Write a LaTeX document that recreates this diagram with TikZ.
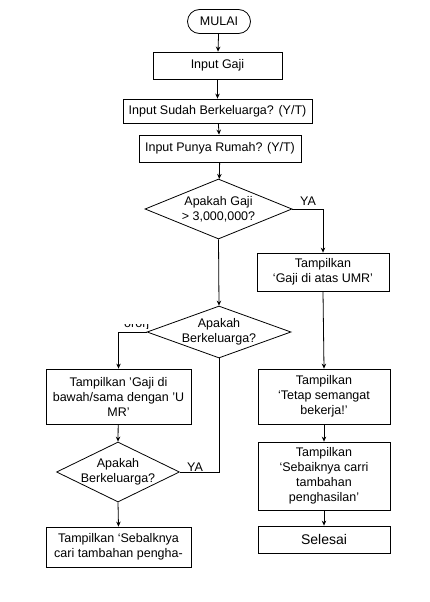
\documentclass[tikz,border=0pt]{standalone}
\usepackage{fontspec}
\setmainfont{Liberation Sans}
\usetikzlibrary{shapes.geometric,arrows.meta}
\tikzset{
  x=1pt,y=-1pt,
  every node/.style={font=\fontsize{12.5}{15}\selectfont},
  box/.style={draw,line width=0.8pt,rectangle,inner sep=0pt,align=center},
  term/.style={draw,line width=0.8pt,rectangle,rounded corners=12pt,inner sep=0pt,minimum width=63pt,minimum height=24pt},
  dec/.style={draw,line width=0.8pt,diamond,inner sep=0pt},
  dtext/.style={align=center,inner sep=0pt},
  conn/.style={line width=0.8pt},
  arr/.style={conn,-{Stealth[length=5pt,width=4.5pt]}},
  lab/.style={inner sep=0pt}
}
\begin{document}
\begin{tikzpicture}
\useasboundingbox[fill=white] (0,0) rectangle (430,602);
\node[term] (start) at (219,21.5) {MULAI};
\node[box,minimum width=129pt,minimum height=27pt] (in1) at (217.5,65.5) {Input Gaji};
\node[box,minimum width=189pt,minimum height=24pt] (in2) at (217.5,111) {Input Sudah Berkeluarga? (Y/T)};
\node[box,minimum width=162pt,minimum height=27pt] (in3) at (220,148.5) {Input Punya Rumah? (Y/T)};
\node[dec,minimum width=147pt,minimum height=60pt] (d1) at (218.5,209) {};
\node[dtext] (d1t) at (d1) {Apakah Gaji\\> 3,000,000?};
\node[box,minimum width=132pt,minimum height=38pt] (r1) at (323,272) {Tampilkan\\‘Gaji di atas UMR’};
\node[dec,minimum width=144pt,minimum height=52pt] (d2) at (219,332) {};
\node[dtext] (d2t) at (d2) {Apakah\\Berkeluarga?};
\node[box,minimum width=145pt,minimum height=55pt] (l1) at (118.5,396.5) {Tampilkan 'Gaji di\\bawah/sama dengan 'U\\MR'};
\node[dec,minimum width=123pt,minimum height=60pt] (d3) at (118,472) {};
\node[dtext] (d3t) at (d3) {Apakah\\Berkeluarga?};
\node[box,minimum width=145pt,minimum height=40pt] (l2) at (118.5,547) {Tampilkan ‘Sebalknya\\cari tambahan pengha-};
\node[box,minimum width=132pt,minimum height=55pt] (r2) at (324,396.5) {Tampilkan\\‘Tetap semangat\\bekerja!’};
\node[box,minimum width=132pt,minimum height=68pt] (r3) at (324,476) {Tampilkan\\‘Sebaiknya carri\\tambahan\\penghasilan’};
\node[box,minimum width=132pt,minimum height=27pt,font=\fontsize{14}{16}\selectfont] (r4) at (324,539.5) {Selesai};
\node[lab] (ya1) at (308,201) {YA};
\node[lab] (ya2) at (195,467.5) {YA};
\begin{scope}
\clip (118,324.5) rectangle (152,328.5);
\node[lab,anchor=base west] (cut) at (124,327.5) {ororj .};
\end{scope}
\coordinate (m) at (219,472);
\draw[arr] (start) -- (in1);
\draw[arr] (in1) -- (in2);
\draw[arr] (in2) -- (in3);
\draw[arr] (in3) -- (d1);
\draw[arr] (d1.east) -| (r1.north);
\draw[arr] (d1.south) -- (d2.north);
\draw[arr] (d2.west) -| (l1.north);
\draw[arr] (l1) -- (d3.north);
\draw[conn] (d3.east) -- (m) -- (d2.south);
\draw[arr] (d3.south) -- (l2.north);
\draw[arr] (r1.south) -- (r2.north);
\draw[arr] (r2) -- (r3);
\draw[arr] (r3) -- (r4);
\end{tikzpicture}
\end{document}
